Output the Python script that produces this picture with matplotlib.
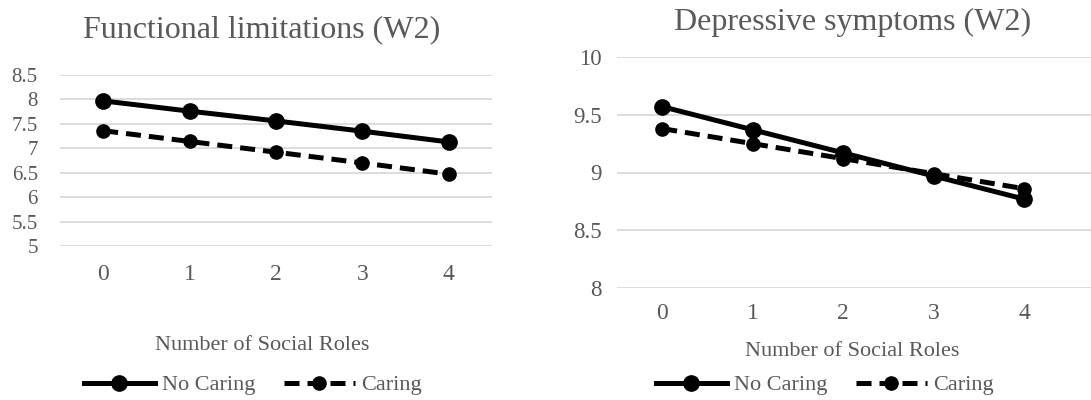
import matplotlib
matplotlib.use("Agg")
import matplotlib.pyplot as plt
from matplotlib.lines import Line2D

plt.rcParams["font.family"] = ["Liberation Serif", "DejaVu Serif"]

roles = [0, 1, 2, 3, 4]
func_no_caring = [7.97, 7.76, 7.56, 7.35, 7.13]
func_caring = [7.36, 7.14, 6.92, 6.70, 6.47]
dep_no_caring = [9.57, 9.37, 9.17, 8.97, 8.77]
dep_caring = [9.38, 9.25, 9.12, 8.99, 8.86]

func_ticks = [5, 5.5, 6, 6.5, 7, 7.5, 8, 8.5]
dep_ticks = [8, 8.5, 9, 9.5, 10]

TXT = "#595959"
GRID = "#d9d9d9"

W, H = 1091, 400
fig = plt.figure(figsize=(W / 100, H / 100), dpi=100)


def px_axes(x0, y0, x1, y1):
    return fig.add_axes([x0 / W, 1 - y1 / H, (x1 - x0) / W, (y1 - y0) / H])


def style(ax, yticks, xlim, ypad, ysize, xpad):
    ax.set_xticks(roles)
    ax.set_xticklabels([str(r) for r in roles])
    ax.set_yticks(yticks)
    ax.set_yticklabels([f"{t:g}" for t in yticks])
    ax.set_ylim(yticks[0], yticks[-1])
    ax.set_xlim(*xlim)
    for s in ax.spines.values():
        s.set_visible(False)
    ax.grid(axis="y", color=GRID, lw=1.3)
    ax.set_axisbelow(True)
    ax.tick_params(axis="both", length=0, colors=TXT)
    ax.tick_params(axis="x", pad=xpad, labelsize=17)
    ax.tick_params(axis="y", pad=ypad, labelsize=ysize)


def draw(ax, solid, dashed):
    ax.plot(roles, solid, color="black", lw=3.6, marker="o", ms=11,
            solid_capstyle="round", clip_on=False, zorder=3)
    ax.plot(roles, dashed, color="black", lw=3.6, ls=(0, (3, 1.6)),
            marker="o", ms=9.5, clip_on=False, zorder=3)


ax1 = px_axes(60, 75, 492, 246)
style(ax1, func_ticks, (-0.5, 4.5), 16, 15, 13)
draw(ax1, func_no_caring, func_caring)

ax2 = px_axes(617, 57, 1091, 288)
style(ax2, dep_ticks, (-0.5, 4.74), 11, 16.5, 11)
draw(ax2, dep_no_caring, dep_caring)

fig.text(262 / W, 1 - 30 / H, "Functional limitations (W2)", ha="center",
         va="center", fontsize=23, color=TXT)
fig.text(853 / W, 1 - 22 / H, "Depressive symptoms (W2)", ha="center",
         va="center", fontsize=23, color=TXT)
fig.text(262 / W, 1 - 345 / H, "Number of Social Roles", ha="center",
         va="center", fontsize=16, color=TXT)
fig.text(852 / W, 1 - 352 / H, "Number of Social Roles", ha="center",
         va="center", fontsize=16, color=TXT)

handles = [
    Line2D([], [], color="black", lw=3.6, marker="o", ms=11),
    Line2D([], [], color="black", lw=3.6, ls=(0, (3, 1.6)), marker="o", ms=9.5),
]
labels = ["No Caring", "Caring"]
for cx in (253, 825):
    fig.legend(handles, labels, loc="center", bbox_to_anchor=(cx / W, 1 - 385 / H),
               ncol=2, frameon=False, fontsize=16, handlelength=3.2,
               handletextpad=0.3, columnspacing=1.3, labelcolor=TXT)

fig.savefig("out.png", dpi=100)
